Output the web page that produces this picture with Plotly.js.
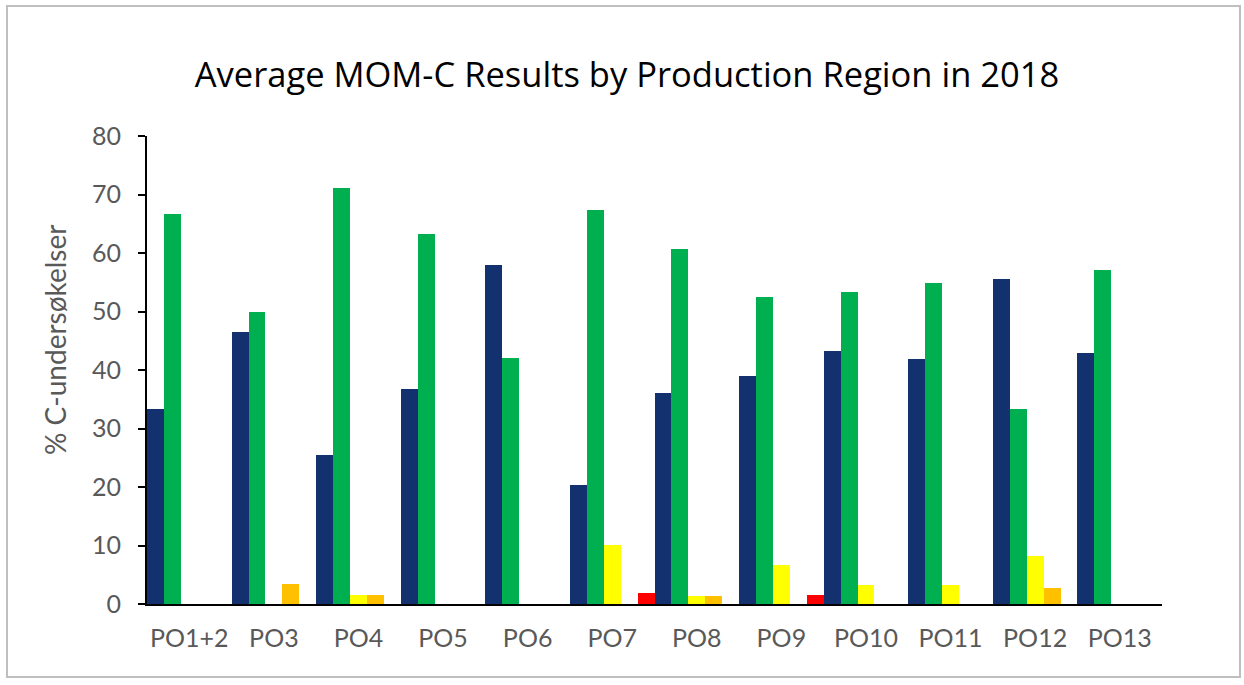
<!DOCTYPE html>
<html>
<head>
<meta charset="utf-8">
<script src="https://cdn.plot.ly/plotly-3.0.1.min.js"></script>
<style>
  html, body { margin: 0; padding: 0; background: #ffffff; }
  #chart { width: 1244px; height: 685px; position: relative; }
  #frame { position: absolute; left: 6px; top: 5px; width: 1235px; height: 673px;
           border: 2px solid #bfbfbf; pointer-events: none; box-sizing: border-box; }
</style>
</head>
<body>
<div id="chart"></div>
<div id="frame"></div>
<script>
const categories = ["PO1+2", "PO3", "PO4", "PO5", "PO6", "PO7", "PO8", "PO9", "PO10", "PO11", "PO12", "PO13"];
const tilstand1 = [33.3, 46.5, 25.4, 36.7, 58.0, 20.3, 36.1, 38.9, 43.3, 41.8, 55.6, 42.9];
const tilstand2 = [66.7, 50.0, 71.1, 63.3, 42.0, 67.3, 60.7, 52.4, 53.3, 54.8, 33.3, 57.1];
const tilstand3 = [0, 0, 1.6, 0, 0, 10.1, 1.4, 6.7, 3.2, 3.2, 8.2, 0];
const tilstand4 = [0, 3.5, 1.6, 0, 0, 0, 1.4, 0, 0, 0, 2.7, 0];
const tilstand5 = [0, 0, 0, 0, 0, 1.8, 0, 1.6, 0, 0, 0, 0];

const seriesNames = ["Tilstand 1", "Tilstand 2", "Tilstand 3", "Tilstand 4", "Tilstand 5"];
const seriesValues = [tilstand1, tilstand2, tilstand3, tilstand4, tilstand5];
const seriesColors = ["#13306F", "#00B050", "#FFFF00", "#FFC000", "#FF0000"];

const yTickVals = [0, 10, 20, 30, 40, 50, 60, 70, 80];

const traces = seriesValues.map((vals, i) => ({
  type: "bar",
  name: seriesNames[i],
  x: categories,
  y: vals,
  marker: { color: seriesColors[i], line: { width: 0 } },
  hoverinfo: "x+y+name"
}));

const tickFont = { family: "Lato, 'Open Sans', sans-serif", size: 25, color: "#595959" };

const layout = {
  width: 1244,
  height: 685,
  paper_bgcolor: "#ffffff",
  plot_bgcolor: "#ffffff",
  showlegend: false,
  barmode: "group",
  bargap: 0,
  bargroupgap: 0,
  margin: { l: 147, r: 82, t: 136, b: 81, pad: 0 },
  title: {
    text: "Average MOM-C Results by Production Region in 2018",
    font: { family: "'Open Sans', 'Noto Sans', sans-serif", size: 34.5, color: "#000000" },
    x: 0.504, xanchor: "center",
    y: 1 - 75 / 685, yref: "container", yanchor: "middle"
  },
  xaxis: {
    type: "category",
    showline: true, linecolor: "#000000", linewidth: 2,
    ticks: "", showgrid: false, zeroline: false,
    tickfont: tickFont,
    ticklabelstandoff: 11
  },
  yaxis: {
    range: [0, 80],
    tickvals: yTickVals,
    ticktext: yTickVals.map(String),
    showline: true, linecolor: "#000000", linewidth: 2,
    ticks: "outside", ticklen: 7, tickwidth: 2, tickcolor: "#000000",
    showgrid: false, zeroline: false,
    tickfont: tickFont,
    ticklabelstandoff: 12
  },
  annotations: [{
    text: "% C-undersøkelser",
    xref: "paper", yref: "paper",
    x: -92 / 1015, y: (604 - 340) / 468,
    xanchor: "center", yanchor: "middle",
    textangle: -90, showarrow: false,
    font: { family: "Lato, 'Open Sans', sans-serif", size: 28, color: "#595959" }
  }]
};

Plotly.newPlot("chart", traces, layout, { displayModeBar: false, staticPlot: true });
</script>
</body>
</html>
